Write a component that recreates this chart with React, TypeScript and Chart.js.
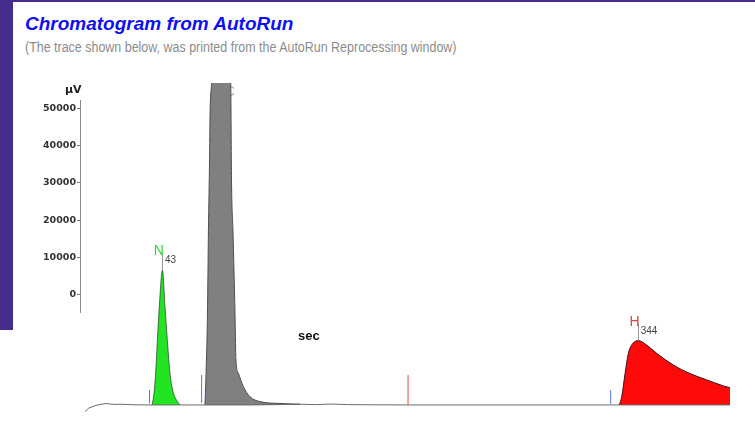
import { useEffect, useRef } from 'react';
import { Chart, registerables } from 'chart.js';

Chart.register(...registerables);

// Retention time (sec) and detector signal (µV above baseline)
const baselineTime = [-6, -3.9, 0.3, 3.5, 7.7, 9.8, 13, 16, 25, 36.5, 60, 100, 130, 140, 150, 160, 175, 200, 260, 330, 402];
const baselineSignal = [-1800, -900, -200, 150, 400, 250, 150, 200, 50, 0, 0, 0, 200, 100, 250, 100, 50, 0, 0, 0, 0];

const nitrogenTime = [36.5, 37.7, 38.7, 39.8, 41.0, 43, 44.6, 46.1, 47.8, 49.5, 52.0, 54.1];
const nitrogenSignal = [0, 3200, 8500, 17300, 26200, 36000, 26200, 17300, 8400, 3900, 1200, 100];

const carbonTime = [69.9, 70.6, 71.5, 72.1, 72.8, 73.1, 74.2, 80, 86.2, 86.7, 87.6, 88.9, 89.5, 91.0, 94.2, 98.4, 104.7, 117.4, 130];
const carbonSignal = [0, 8500, 24600, 46700, 65400, 76900, 86800, 160000, 86800, 60000, 46700, 24600, 12000, 8500, 4900, 2200, 900, 400, 200];

const hydrogenTime = [332.1, 333.6, 335.7, 337.8, 339.9, 344, 349.4, 355.7, 366.2, 376.8, 387.4, 397.9, 402.1];
const hydrogenSignal = [0, 2200, 8400, 13800, 16000, 17200, 16000, 13800, 10700, 8400, 6700, 5100, 4600];

// Integration event marks: time, kind, low / high signal of the tick
const markerTime = [34.8, 67.8, 67.8, 198.4, 326.6];
const markerKind = ['start', 'start', 'end', 'end', 'start'];
const markerLow = [400, 500, 4500, 0, 300];
const markerHigh = [4000, 4500, 8000, 8000, 4000];

// Peak identification: element, apex time (sec), apex signal (µV)
const peakNames = ['N', 'C', 'H'];
const peakTimes = [43, 80, 344];
const peakHeights = [36000, 160000, 17200];

// Signal axis ticks (µV)
const axisTicks = [0, 10000, 20000, 30000, 40000, 50000];

const PURPLE = '#462d8c';
const peakLetterColors: Record<string, string> = { N: '#2fd82f', C: '#a8a8a8', H: '#cf4a4a' };

const toPoints = (xs: number[], ys: number[]) => xs.map((x, i) => ({ x, y: ys[i] }));

const peakLabels = {
  id: 'peakLabels',
  beforeDatasetsDraw(chart: any) {
    // labels whose apex lies above the plot are drawn first, partly hidden by the peak
    const { ctx, chartArea, scales } = chart;
    ctx.save();
    peakNames.forEach((name, i) => {
      const px = scales.x.getPixelForValue(peakTimes[i]);
      const py = scales.y.getPixelForValue(peakHeights[i]);
      if (py >= chartArea.top) return;
      ctx.font = '14px "Liberation Sans"';
      ctx.fillStyle = peakLetterColors[name];
      ctx.textAlign = 'center';
      ctx.textBaseline = 'alphabetic';
      ctx.fillText(name, px + 9, chartArea.top + 13);
    });
    ctx.restore();
  },
  afterDatasetsDraw(chart: any) {
    const { ctx, chartArea, scales } = chart;
    ctx.save();
    peakNames.forEach((name, i) => {
      const px = scales.x.getPixelForValue(peakTimes[i]);
      const py = scales.y.getPixelForValue(peakHeights[i]);
      if (py < chartArea.top) return;
      ctx.strokeStyle = '#9a9a9a';
      ctx.lineWidth = 1;
      ctx.beginPath();
      ctx.moveTo(Math.round(px) + 0.5, py);
      ctx.lineTo(Math.round(px) + 0.5, py - 17);
      ctx.stroke();
      ctx.textBaseline = 'alphabetic';
      ctx.font = '14px "Liberation Sans"';
      ctx.fillStyle = peakLetterColors[name];
      ctx.textAlign = 'right';
      ctx.fillText(name, px + 1.5, py - 15);
      ctx.font = '10px "Liberation Sans"';
      ctx.fillStyle = '#444';
      ctx.textAlign = 'left';
      ctx.fillText(String(peakTimes[i]), px + 2.5, py - 7);
    });
    // time axis unit
    ctx.font = 'bold 13px "Liberation Sans"';
    ctx.fillStyle = '#111';
    ctx.textAlign = 'left';
    ctx.fillText('sec', 298, 340);
    ctx.restore();
  },
};

const unitLabel = {
  id: 'unitLabel',
  afterDraw(chart: any) {
    const { ctx, scales } = chart;
    const s = scales.y;
    ctx.save();
    ctx.font = 'bold 11px "DejaVu Sans"';
    ctx.fillStyle = '#222';
    ctx.textAlign = 'right';
    ctx.textBaseline = 'alphabetic';
    ctx.fillText('µV', s.right + 1.5, s.top - 7.5);
    ctx.restore();
  },
};

export default function App() {
  const traceRef = useRef<HTMLCanvasElement>(null);
  const axisRef = useRef<HTMLCanvasElement>(null);

  useEffect(() => {
    if (!traceRef.current || !axisRef.current) return;

    const markerSets = markerTime.map((t, i) => ({
      data: [
        { x: t, y: markerLow[i] },
        { x: t, y: markerHigh[i] },
      ],
      borderColor: markerKind[i] === 'start' ? '#5a72e0' : '#e0503c',
      borderWidth: 1,
      pointRadius: 0,
      fill: false,
    }));

    const trace = new Chart(traceRef.current, {
      type: 'line',
      data: {
        datasets: [
          ...markerSets,
          {
            data: toPoints(baselineTime, baselineSignal),
            borderColor: '#6a6a6a',
            borderWidth: 1,
            pointRadius: 0,
            fill: false,
          },
          {
            data: toPoints(nitrogenTime, nitrogenSignal),
            borderColor: 'rgba(40,70,40,0.75)',
            borderWidth: 1,
            backgroundColor: '#22e422',
            pointRadius: 0,
            fill: 'origin',
            cubicInterpolationMode: 'monotone',
          },
          {
            data: toPoints(carbonTime, carbonSignal),
            borderColor: '#4e4e4e',
            borderWidth: 1,
            backgroundColor: '#808080',
            pointRadius: 0,
            fill: 'origin',
            cubicInterpolationMode: 'monotone',
          },
          {
            data: toPoints(hydrogenTime, hydrogenSignal),
            borderColor: '#3c1414',
            borderWidth: 1,
            backgroundColor: '#fe0a0a',
            pointRadius: 0,
            fill: 'origin',
            cubicInterpolationMode: 'monotone',
          },
        ] as any,
      },
      options: {
        responsive: false,
        animation: false,
        layout: { padding: { left: 85, right: 22, top: 83, bottom: 16.8 } },
        scales: {
          x: { type: 'linear', display: false, min: -6, max: 404 },
          y: { type: 'linear', display: false, min: -3000, max: 86000 },
        },
        plugins: { legend: { display: false }, tooltip: { enabled: false } },
      },
      plugins: [peakLabels],
    });

    const axis = new Chart(axisRef.current, {
      type: 'line',
      data: { datasets: [] },
      options: {
        responsive: false,
        animation: false,
        layout: { padding: { top: 22, bottom: 7.3, left: 0, right: 0 } },
        scales: {
          x: { type: 'linear', display: false, min: 0, max: 1 },
          y: {
            type: 'linear',
            position: 'left',
            min: -4740,
            max: 52220,
            afterBuildTicks: (s: any) => {
              s.ticks = axisTicks.map((v) => ({ value: v }));
            },
            afterFit: (s: any) => {
              s.width = 80;
            },
            ticks: {
              font: { family: 'DejaVu Sans', weight: 'bold', size: 9.5 },
              color: '#333',
              padding: 1,
              callback: (v: any) => String(v),
            },
            grid: { drawOnChartArea: false, tickLength: 3, color: '#777' },
            border: { color: '#8a8a8a' },
          },
        },
        plugins: { legend: { display: false }, tooltip: { enabled: false } },
      },
      plugins: [unitLabel],
    });

    return () => {
      trace.destroy();
      axis.destroy();
    };
  }, []);

  return (
    <div style={{ position: 'absolute', left: 0, top: 0, width: 755, height: 433, background: '#fff', overflow: 'hidden' }}>
      <div style={{ position: 'absolute', left: 0, top: 0, width: 755, height: 2, background: PURPLE }} />
      <div style={{ position: 'absolute', left: 0, top: 0, width: 13, height: 330, background: PURPLE }} />
      <div
        style={{
          position: 'absolute',
          left: 25,
          top: 14,
          font: 'italic bold 19px "Liberation Sans"',
          lineHeight: '19px',
          color: '#0f0ff5',
          whiteSpace: 'nowrap',
        }}
      >
        Chromatogram from AutoRun
      </div>
      <div
        style={{
          position: 'absolute',
          left: 25,
          top: 40,
          font: '14px "Liberation Sans"',
          lineHeight: '14px',
          color: '#8c8c8c',
          whiteSpace: 'nowrap',
          transform: 'scaleX(0.89)',
          transformOrigin: 'left top',
        }}
      >
        (The trace shown below, was printed from the AutoRun Reprocessing window)
      </div>
      <canvas ref={traceRef} width={755} height={433} style={{ position: 'absolute', left: 0, top: 0 }} />
      <canvas ref={axisRef} width={84} height={242} style={{ position: 'absolute', left: 0, top: 78 }} />
    </div>
  );
}
